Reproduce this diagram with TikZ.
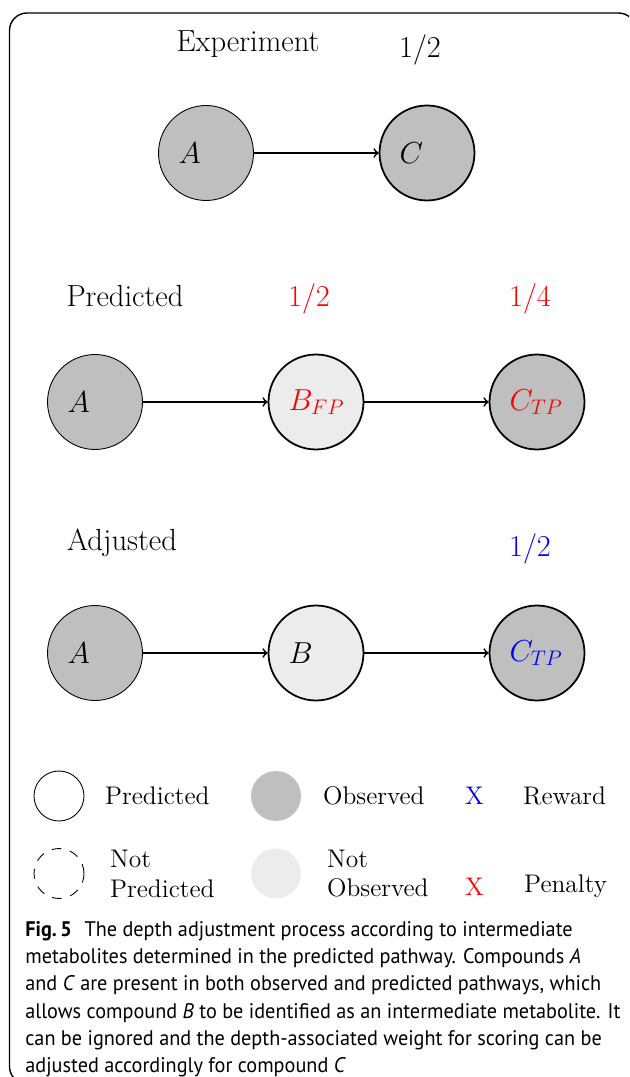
\documentclass[tikz,border=0pt]{standalone}
\usepackage{fontspec}
\newfontfamily\capfont[FakeStretch=0.96]{PT Sans}
\tikzset{
	px/.style={x={(0.02cm,0cm)},y={(0cm,-0.02cm)}},
	Compound/.style={circle,draw=black,line width=1pt,minimum size=1.9cm,
    inner sep=0pt,text width=1.1cm,align=left,font=\fontsize{16.5}{19}\selectfont},
	Obs/.style={Compound,fill=gray!50},
	NotObs/.style={Compound,fill=gray!15},
	flow/.style={->,line width=1pt},
	Head/.style={font=\fontsize{17.4}{20}\selectfont},
	Weight/.style={font=\fontsize{16}{19}\selectfont},
	Key/.style={anchor=west,align=left,font=\fontsize{14.5}{17}\selectfont},
	KeyDot/.style={circle,minimum size=1cm,inner sep=0pt}
		}

\begin{document}
\begin{tikzpicture}[px]
  \useasboundingbox (0,0) rectangle (629,1077);
  \begin{scope}
    \clip (0,0) rectangle (629,1077);
    \draw[line width=0.8pt,rounded corners=10] (9.5,13) rectangle (636,1084);
  \end{scope}

  % experiment
  \node[Head] (hexp) at (248,44) {Experiment};
  \node[Weight] (wexp) at (420,50) {$1/2$};
  \node[Obs,line width=0.5pt] (eA) at (206,153) {$A$};
  \node[Obs] (eC) at (427,153) {$C$};
  \draw[flow] (eA) -- (eC);

  % predicted
  \node[Head] (hpred) at (125,296) {Predicted};
  \node[Weight,red] (wpB) at (309,299) {$1/2$};
  \node[Weight,red] (wpC) at (530,299) {$1/4$};
  \node[Obs,line width=0.5pt] (pA) at (95,402) {$A$};
  \node[NotObs,text=red] (pB) at (316,402) {$B_{FP}$};
  \node[Obs,text=red] (pC) at (537,402) {$C_{TP}$};
  \draw[flow] (pA) -- (pB);
  \draw[flow] (pB) -- (pC);

  % adjusted
  \node[Head] (hadj) at (122,543) {Adjusted};
  \node[Weight,blue] (waC) at (530,549) {$1/2$};
  \node[Obs,line width=0.5pt] (aA) at (95,653) {$A$};
  \node[NotObs] (aB) at (316,653) {$B$};
  \node[Obs,text=blue] (aC) at (537,653) {$C_{TP}$};
  \draw[flow] (aA) -- (aB);
  \draw[flow] (aB) -- (aC);

  % legend
  \node[KeyDot,draw=black,line width=0.5pt] (kpred) at (59,796) {};
  \node[Key] (tpred) at (99,796) {Predicted};
  \node[KeyDot,fill=gray!50] (kobs) at (276,796) {};
  \node[Key] (tobs) at (317,796) {Observed};
  \node[Key,blue,anchor=center] (krew) at (474.5,796) {X};
  \node[Key] (trew) at (517,796) {Reward};
  \node[KeyDot,draw=black,line width=0.5pt,dash pattern=on 5.5pt off 5pt] (knpred) at (59,873.5) {};
  \node[Key] (tnpred) at (104,873.5) {Not\\Predicted};
  \node[KeyDot,fill=gray!15] (knobs) at (276,873.5) {};
  \node[Key] (tnobs) at (321,873.5) {Not\\Observed};
  \node[Key,red,anchor=center] (kpen) at (474.5,887) {X};
  \node[Key] (tpen) at (518,886) {Penalty};

  % caption
  \node[anchor=north west,align=left,inner sep=0pt,
    font=\capfont\fontsize{12}{15.5}\selectfont] (cap) at (25,921)
    {\textbf{Fig.\,5}\hspace{0.6em}The depth adjustment process according to intermediate\\
     metabolites determined in the predicted pathway. Compounds \textit{A}\\
     and \textit{C} are present in both observed and predicted pathways, which\\
     allows compound \textit{B} to be identified as an intermediate metabolite. It\\
     can be ignored and the depth-associated weight for scoring can be\\
     adjusted accordingly for compound \textit{C}};
\end{tikzpicture}
\end{document}
